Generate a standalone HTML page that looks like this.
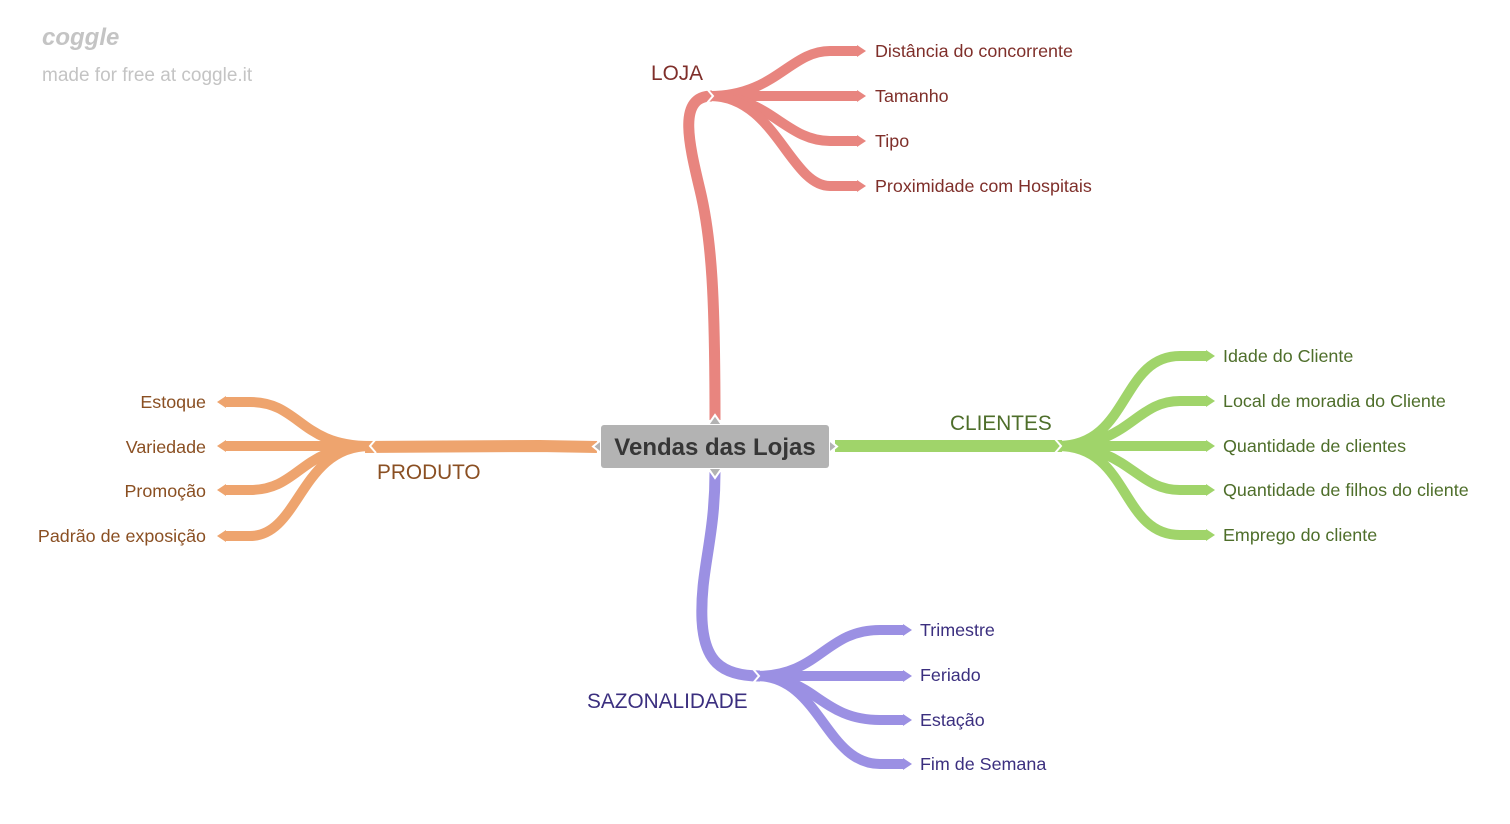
<!DOCTYPE html>
<html><head><meta charset="utf-8"><style>
html,body{margin:0;padding:0;background:#fff;}
svg{display:block;font-family:"Liberation Sans",sans-serif;}
</style></head><body>
<svg width="1510" height="824" viewBox="0 0 1510 824" xmlns="http://www.w3.org/2000/svg">
<g fill="none" stroke-linecap="butt">
<g stroke="#e8857f">
<path d="M715 420 C715 300 712 240 700 190 C688 140 678 96 712 96" stroke-width="11"/>
<path d="M710 96 C775 96 790 51 830 51 L858 51" stroke-width="10"/>
<path d="M710 96 L858 96" stroke-width="10"/>
<path d="M710 96 C770 96 785 141 830 141 L858 141" stroke-width="10"/>
<path d="M710 96 C775 96 790 186 830 186 L858 186" stroke-width="10"/>
</g>
<g fill="#e8857f"><path d="M857 45 L866 51 L857 57Z"/><path d="M857 90 L866 96 L857 102Z"/><path d="M857 135 L866 141 L857 147Z"/><path d="M857 180 L866 186 L857 192Z"/></g>
<polyline points="707,89 713,96 707,103" stroke="#fff" stroke-width="2" fill="none"/>
<g stroke="#a0d46a">
<path d="M835 446 L1062 446" stroke-width="12"/>
<path d="M1058 446 C1130 446 1120 356 1180 356 L1207 356" stroke-width="10"/>
<path d="M1058 446 C1130 446 1135 401 1180 401 L1207 401" stroke-width="10"/>
<path d="M1058 446 L1207 446" stroke-width="10"/>
<path d="M1058 446 C1130 446 1135 490 1180 490 L1207 490" stroke-width="10"/>
<path d="M1058 446 C1130 446 1120 535 1180 535 L1207 535" stroke-width="10"/>
</g>
<g fill="#a0d46a"><path d="M1206 350 L1215 356 L1206 362Z"/><path d="M1206 395 L1215 401 L1206 407Z"/><path d="M1206 440 L1215 446 L1206 452Z"/><path d="M1206 484 L1215 490 L1206 496Z"/><path d="M1206 529 L1215 535 L1206 541Z"/></g>
<polyline points="1055,439 1061,446 1055,453" stroke="#fff" stroke-width="2" fill="none"/>
<g stroke="#eea46e">
<path d="M597 447 L540 446 L365 447" stroke-width="12"/>
<path d="M370 446 C300 446 300 402 250 402 L225 402" stroke-width="10"/>
<path d="M370 446 L225 446" stroke-width="10"/>
<path d="M370 446 C300 446 300 490 250 490 L225 490" stroke-width="10"/>
<path d="M370 446 C300 446 300 536 250 536 L225 536" stroke-width="10"/>
</g>
<g fill="#eea46e"><path d="M226 396 L217 402 L226 408Z"/><path d="M226 440 L217 446 L226 452Z"/><path d="M226 484 L217 490 L226 496Z"/><path d="M226 530 L217 536 L226 542Z"/></g>
<polyline points="376,439 370,446 376,453" stroke="#fff" stroke-width="2" fill="none"/>
<g stroke="#9b90e3">
<path d="M715 472 C715 540 700 570 702 620 C704 660 720 676 760 676" stroke-width="11"/>
<path d="M756 676 C820 676 825 630 880 630 L904 630" stroke-width="10"/>
<path d="M756 676 L904 676" stroke-width="10"/>
<path d="M756 676 C815 676 820 720 880 720 L904 720" stroke-width="10"/>
<path d="M756 676 C820 676 825 764 880 764 L904 764" stroke-width="10"/>
</g>
<g fill="#9b90e3"><path d="M903 624 L912 630 L903 636Z"/><path d="M903 670 L912 676 L903 682Z"/><path d="M903 714 L912 720 L903 726Z"/><path d="M903 758 L912 764 L903 770Z"/></g>
<polyline points="753,669 759,676 753,683" stroke="#fff" stroke-width="2" fill="none"/>
</g>
<path d="M708 425 L715 415 L722 425Z" fill="#b3b3b3" stroke="#fff" stroke-width="2"/>
<path d="M708 468 L715 478 L722 468Z" fill="#b3b3b3" stroke="#fff" stroke-width="2"/>
<path d="M601 440 L593 446.5 L601 453Z" fill="#b3b3b3" stroke="#fff" stroke-width="2"/>
<path d="M829 440 L837 446.5 L829 453Z" fill="#b3b3b3" stroke="#fff" stroke-width="2"/>
<rect x="601" y="425" width="228" height="43" rx="3" fill="#b3b3b3"/>
<text x="715" y="455" text-anchor="middle" font-size="24" font-weight="bold" fill="#363636">Vendas das Lojas</text>
<g font-size="20.8">
<text x="651" y="80" fill="#7f2f2a">LOJA</text>
<text x="950" y="430" fill="#4e6e2a">CLIENTES</text>
<text x="377" y="479" fill="#8a4f22">PRODUTO</text>
<text x="587" y="708" fill="#3b2f7f">SAZONALIDADE</text>
</g>
<g font-size="17.9" fill="#7f2f2a">
<text x="875" y="57">Distância do concorrente</text>
<text x="875" y="102">Tamanho</text>
<text x="875" y="147">Tipo</text>
<text x="875" y="192">Proximidade com Hospitais</text>
</g>
<g font-size="17.9" fill="#4e6e2a">
<text x="1223" y="362">Idade do Cliente</text>
<text x="1223" y="407">Local de moradia do Cliente</text>
<text x="1223" y="452">Quantidade de clientes</text>
<text x="1223" y="496">Quantidade de filhos do cliente</text>
<text x="1223" y="541">Emprego do cliente</text>
</g>
<g font-size="17.9" fill="#8a4f22" text-anchor="end">
<text x="206" y="408">Estoque</text>
<text x="206" y="453">Variedade</text>
<text x="206" y="497">Promoção</text>
<text x="206" y="542">Padrão de exposição</text>
</g>
<g font-size="17.9" fill="#3b2f7f">
<text x="920" y="636">Trimestre</text>
<text x="920" y="681">Feriado</text>
<text x="920" y="726">Estação</text>
<text x="920" y="770">Fim de Semana</text>
</g>
<text x="42" y="45" font-size="24" font-style="italic" font-weight="bold" fill="#c4c4c4">coggle</text>
<text x="42" y="81" font-size="19" fill="#c4c4c4">made for free at coggle.it</text>
</svg>
</body></html>
